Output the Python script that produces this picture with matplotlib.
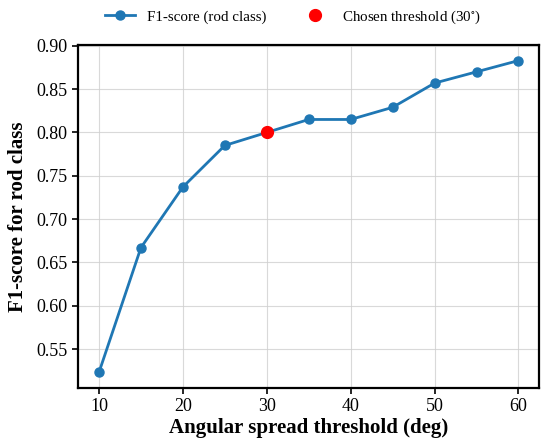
import matplotlib
matplotlib.use("Agg")
import matplotlib.pyplot as plt

thresholds = [10, 15, 20, 25, 30, 35, 40, 45, 50, 55, 60]
f1_scores = [0.523, 0.667, 0.737, 0.785, 0.800, 0.815, 0.815, 0.829, 0.857, 0.870, 0.883]
chosen_threshold = 30
chosen_f1 = 0.800

plt.rcParams['font.family'] = ['Liberation Serif', 'DejaVu Serif']
plt.rcParams['mathtext.fontset'] = 'stix'

fig = plt.figure(figsize=(5.5, 4.48), dpi=100)
ax = fig.add_axes([0.1418, 0.1339, 0.839, 0.7657])

ax.plot(thresholds, f1_scores, color='#1f77b4', lw=2, marker='o', ms=6.5,
        label='F1-score (rod class)', zorder=3)
ax.plot([chosen_threshold], [chosen_f1], 'o', color='red', ms=8.5,
        label='Chosen threshold (30$^{\\circ}$)', zorder=4, linestyle='none')

ax.set_xticks([10, 20, 30, 40, 50, 60])
ax.set_yticks([0.55, 0.60, 0.65, 0.70, 0.75, 0.80, 0.85, 0.90])
ax.set_yticklabels([f"{v:.2f}" for v in [0.55, 0.60, 0.65, 0.70, 0.75, 0.80, 0.85, 0.90]])
ax.tick_params(labelsize=13, width=1.2, length=4)
ax.grid(True, color='#d0d0d0', alpha=0.8, lw=0.8)
for s in ax.spines.values():
    s.set_linewidth(1.6)
    s.set_color('black')

ax.set_xlabel('Angular spread threshold (deg)', fontsize=15, fontweight='bold', labelpad=2)
ax.set_ylabel('F1-score for rod class', fontsize=15, fontweight='bold', labelpad=6)

fig.legend(loc='center', bbox_to_anchor=(0.533, 0.962), ncol=2, frameon=False,
           fontsize=10.8, columnspacing=2.2, handlelength=2.0)

fig.savefig('out.png', dpi=100)
